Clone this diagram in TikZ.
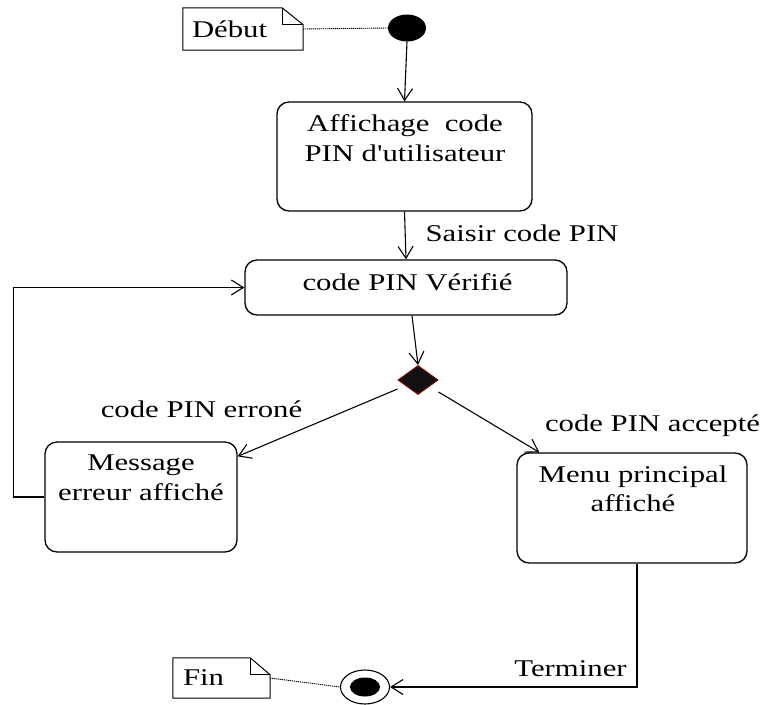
\documentclass[tikz,border=0pt]{standalone}
\usepackage{fontspec}
\setmainfont{Liberation Serif}[FakeStretch=1.28,Ligatures=TeXOff]
\usetikzlibrary{arrows.meta,shapes.geometric,calc}
\definecolor{dred}{RGB}{128,0,0}
\begin{document}
\begin{tikzpicture}[x=1pt,y=-1pt,
  state/.style={draw, line width=1.3pt, rounded corners=12pt, inner sep=0pt},
  lbl/.style={font=\fontsize{24}{29.5}\selectfont, inner sep=0pt, align=center},
  arr/.style={line width=1.1pt, -{Straight Barb[length=12pt,width=15pt,line width=1.1pt]}},
  conn/.style={line width=1.1pt},
  dots/.style={line width=0.9pt, dash pattern=on 1.2pt off 0.8pt},
  notebox/.style={inner ysep=0pt, align=left, font=\fontsize{24}{26}\selectfont}
]
\useasboundingbox (0,0) rectangle (768,704);

% initial node and note
\node[ellipse, fill=black, inner sep=0pt, minimum width=38pt, minimum height=27pt] (start) at (407,28) {};
\node[notebox, inner xsep=9pt, text width=102pt, minimum height=42pt] (ndebut) at (243,29) {Début};
\draw[line width=1pt] (ndebut.north west) -- ([xshift=-21pt]ndebut.north east) -- ([yshift=-17pt]ndebut.north east) -- (ndebut.south east) -- (ndebut.south west) -- cycle;
\draw[line width=1pt] ([xshift=-21pt]ndebut.north east) -- ([xshift=-21pt,yshift=-17pt]ndebut.north east) -- ([yshift=-17pt]ndebut.north east);
\draw[dots] (ndebut.east) -- (start.west);

% states
\node[state, minimum width=255pt, minimum height=109pt] (box1) at (404.5,156.5) {};
\node[lbl] (t1) at (405,138) {Affichage\ \ code\\PIN d'utilisateur};

\node[state, minimum width=322pt, minimum height=55pt] (box2) at (406,287.5) {};
\node[lbl] (t2) at (407.5,282) {code PIN Vérifié};

\node[diamond, draw=dred, fill=black!93, line width=1pt, inner sep=0pt, minimum width=40pt, minimum height=29pt] (dec) at (418,380) {};

\node[state, minimum width=192pt, minimum height=110pt] (msg) at (141,497) {};
\node[lbl] (tmsg) at (141,478) {Message\\erreur affiché};

\node[state, minimum width=230pt, minimum height=110pt] (menu) at (632,508) {};
\node[lbl] (tmenu) at (633,489) {Menu principal\\affiché};

% final node and note
\node[ellipse, draw, line width=1.1pt, inner sep=0pt, minimum width=49pt, minimum height=34pt] (fin) at (365,687) {};
\node[ellipse, fill=black, inner sep=0pt, minimum width=30pt, minimum height=19pt] (fincore) at (fin.center) {};
\node[notebox, inner xsep=10pt, text width=77pt, minimum height=40pt] (nfin) at (221.5,678) {Fin};
\draw[line width=1pt] (nfin.north west) -- ([xshift=-20pt]nfin.north east) -- ([yshift=-17pt]nfin.north east) -- (nfin.south east) -- (nfin.south west) -- cycle;
\draw[line width=1pt] ([xshift=-20pt]nfin.north east) -- ([xshift=-20pt,yshift=-17pt]nfin.north east) -- ([yshift=-17pt]nfin.north east);
\draw[dots] (nfin.east) -- (fin.west);

% labels
\node[lbl] (lsaisir) at (522,233) {Saisir code PIN};
\node[lbl] (lerr) at (201.5,409) {code PIN erroné};
\node[lbl] (lacc) at (652.5,426) {code PIN accepté};
\node[lbl] (lterm) at (570.5,669) {Terminer};

% connectors
\draw[arr] (start.south) -- (box1.north);
\draw[arr] (box1.south) -- (box2.north);
\draw[arr] ([xshift=6pt]box2.south) -- (dec.north);
\draw[arr] ($(dec.west)+(0,9)$) -- ([yshift=-15pt]msg.north east);
\draw[arr] ($(dec.east)+(0,12)$) -- ([xshift=23pt]menu.north west);
\draw[arr] (msg.west) -- ++(-31,0) |- (box2.west);
\draw[arr] ([xshift=5pt]menu.south) |- (fin.east);
\end{tikzpicture}
\end{document}
